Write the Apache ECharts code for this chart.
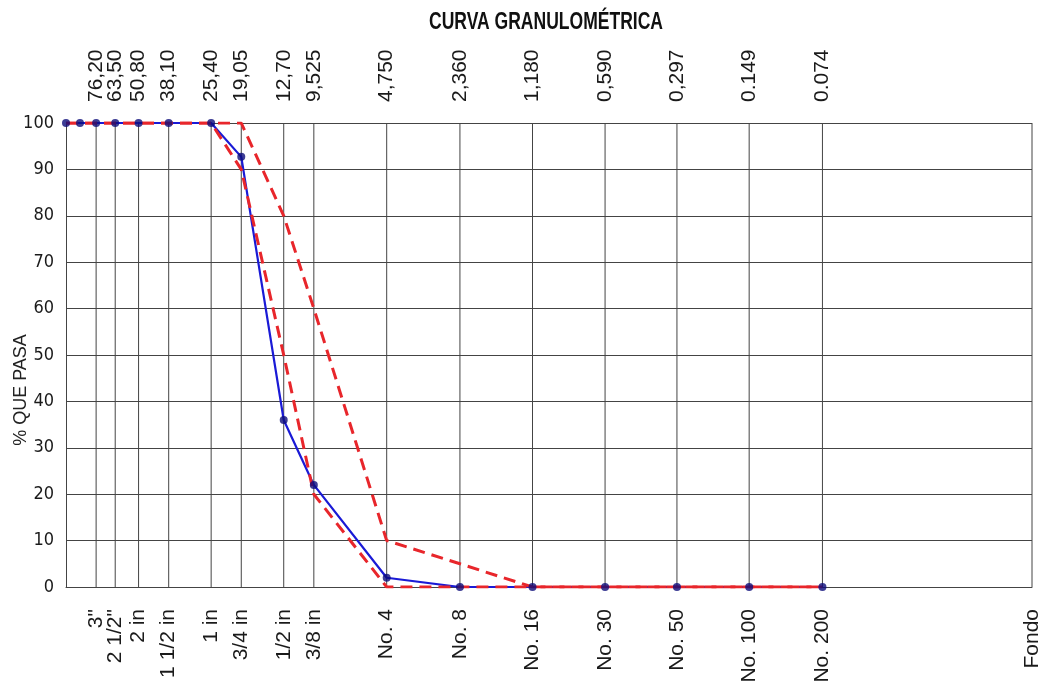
<!DOCTYPE html>
<html>
<head>
<meta charset="utf-8">
<script src="https://cdn.jsdelivr.net/npm/echarts@6/dist/echarts.min.js"></script>
<style>
html,body{margin:0;padding:0;background:#fff;}
#chart{width:1046px;height:691px;}
</style>
</head>
<body>
<div id="chart"></div>
<script>
// Sieve openings (mm) drawn as vertical grid lines, with their labels
const sieveSizes = [76.2, 63.5, 50.8, 38.1, 25.4, 19.05, 12.7, 9.525, 4.75, 2.36, 1.18, 0.59, 0.297, 0.149, 0.074, 0.01];
const topLabels = ['76,20', '63,50', '50,80', '38,10', '25,40', '19,05', '12,70', '9,525', '4,750', '2,360', '1,180', '0,590', '0,297', '0.149', '0.074', ''];
const bottomLabels = ['3"', '2 1/2"', '2 in', '1 1/2 in', '1 in', '3/4 in', '1/2 in', '3/8 in', 'No. 4', 'No. 8', 'No. 16', 'No. 30', 'No. 50', 'No. 100', 'No. 200', 'Fondo'];

// Sample grading
const sampleSizes = [101.6, 88.9, 76.2, 63.5, 50.8, 38.1, 25.4, 19.05, 12.7, 9.525, 4.75, 2.36, 1.18, 0.59, 0.297, 0.149, 0.074];
const pctPassing  = [100, 100, 100, 100, 100, 100, 100, 92.7, 36, 22, 2, 0, 0, 0, 0, 0, 0];
const upperLimit  = [100, 100, 100, 100, 100, 100, 100, 100, 80, 60, 10, 5, 0, 0, 0, 0, 0];
const lowerLimit  = [100, 100, 100, 100, 100, 100, 100, 90, 50, 20, 0, 0, 0, 0, 0, 0, 0];

const yTicks = [0, 10, 20, 30, 40, 50, 60, 70, 80, 90, 100];
const chartTitle = 'CURVA GRANULOMÉTRICA';
const yAxisTitle = '% QUE PASA';

const X_MIN = 0.01, X_MAX = 101.6;
const GRID_COLOR = '#444444';
const REG = "'Liberation Sans', Arial, sans-serif";

const pair = (xs, ys) => xs.map((x, i) => [x, ys[i]]);

const chart = echarts.init(document.getElementById('chart'), null, {renderer: 'canvas'});

const option = {
  backgroundColor: '#ffffff',
  animation: false,
  graphic: [
    {
      type: 'text', x: 546, y: 22, scaleX: 0.73,
      style: {text: chartTitle, font: 'bold 24px ' + REG, fill: '#111', align: 'center', verticalAlign: 'middle'}
    },
    {
      type: 'text', x: 21, y: 390, rotation: Math.PI / 2,
      style: {text: yAxisTitle, font: '18px ' + REG, fill: '#222', align: 'center', verticalAlign: 'middle'}
    }
  ],
  grid: {left: 66, right: 14, top: 123, bottom: 104, containLabel: false},
  xAxis: {
    type: 'log', logBase: 10, min: X_MIN, max: X_MAX, inverse: true,
    axisLine: {show: true, onZero: false, lineStyle: {color: GRID_COLOR, width: 1}},
    axisTick: {show: false}, axisLabel: {show: false}, splitLine: {show: false}
  },
  yAxis: {
    type: 'value', min: 0, max: 100, interval: 10,
    axisLine: {show: true, lineStyle: {color: GRID_COLOR, width: 1}},
    axisTick: {show: false},
    axisLabel: {margin: 12, fontFamily: "'DejaVu Sans Condensed', 'Liberation Sans', sans-serif", fontSize: 18, color: '#1a1a1a',
      customValues: yTicks},
    splitLine: {show: true, lineStyle: {color: GRID_COLOR, width: 1}}
  },
  series: [
    {
      type: 'custom', z: 1, silent: true, clip: false,
      data: sieveSizes.map((s, i) => [s, 0, i]),
      encode: {x: 0, y: 1},
      renderItem: function (params, api) {
        const i = api.value(2);
        const s = api.value(0);
        const pBot = api.coord([s, 0]);
        const pTop = api.coord([s, 100]);
        const children = [{
          type: 'line',
          shape: {x1: pBot[0], y1: pBot[1], x2: pTop[0], y2: pTop[1]},
          style: {stroke: GRID_COLOR, lineWidth: 1}
        }];
        if (topLabels[i]) {
          children.push({
            type: 'text', x: pTop[0], y: pTop[1] - 21, rotation: Math.PI / 2,
            style: {text: topLabels[i], font: '21px ' + REG, fill: '#1a1a1a', align: 'left', verticalAlign: 'middle'}
          });
        }
        if (bottomLabels[i]) {
          children.push({
            type: 'text', x: pBot[0], y: pBot[1] + 22, rotation: Math.PI / 2,
            style: {text: bottomLabels[i], font: '21px ' + REG, fill: '#1a1a1a', align: 'right', verticalAlign: 'middle'}
          });
        }
        return {type: 'group', children: children};
      }
    },
    {
      name: 'Muestra', type: 'line', z: 3,
      data: pair(sampleSizes, pctPassing),
      showSymbol: false, symbol: 'none',
      lineStyle: {color: '#1a1ad6', width: 2.2}
    },
    {
      name: 'Límite superior', type: 'line', z: 4,
      data: pair(sampleSizes, upperLimit),
      symbol: 'none',
      lineStyle: {color: '#e8262b', width: 3, type: [12, 7]}
    },
    {
      name: 'Límite inferior', type: 'line', z: 4,
      data: pair(sampleSizes, lowerLimit),
      symbol: 'none',
      lineStyle: {color: '#e8262b', width: 3, type: [12, 7]}
    },
    {
      name: 'Puntos', type: 'scatter', z: 5, clip: false,
      data: pair(sampleSizes, pctPassing),
      symbol: 'circle', symbolSize: 8,
      itemStyle: {color: '#0c0c7a'}
    }
  ]
};
chart.setOption(option);
</script>
</body>
</html>
